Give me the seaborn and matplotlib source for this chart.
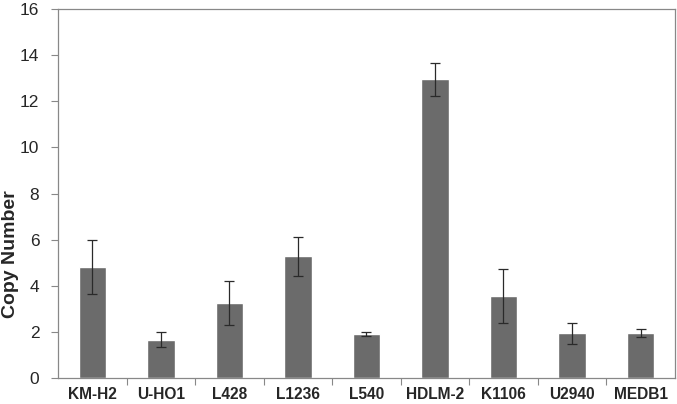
import matplotlib
matplotlib.use('Agg')
import matplotlib.pyplot as plt
import numpy as np
import pandas as pd
import seaborn as sns
from matplotlib.ticker import FixedLocator

cell_lines = ['KM-H2', 'U-HO1', 'L428', 'L1236', 'L540', 'HDLM-2', 'K1106', 'U2940', 'MEDB1']
copy_number = [4.82, 1.67, 3.27, 5.28, 1.92, 12.95, 3.55, 1.95, 1.95]
copy_error = [1.18, 0.33, 0.96, 0.84, 0.10, 0.72, 1.18, 0.46, 0.16]

df = pd.DataFrame({'cell_line': cell_lines, 'copy_number': copy_number, 'err': copy_error})

sns.set_style('white')
plt.rcParams['font.family'] = ['Liberation Sans', 'DejaVu Sans']

fig = plt.figure(figsize=(6.77, 4.04), dpi=100)
ax = fig.add_axes([0.0857, 0.064, 0.911, 0.914])

sns.barplot(data=df, x='cell_line', y='copy_number', color='#6b6b6b',
            saturation=1, width=0.4, errorbar=None, ax=ax)

# Error bars centred on the drawn bars
centres = [p.get_x() + p.get_width() / 2 for p in ax.patches]
ax.errorbar(centres, df['copy_number'], yerr=df['err'], fmt='none',
            ecolor='#2a2a2a', elinewidth=0.9, capsize=3.5, capthick=0.9)

ax.set_ylim(0, 16)
ax.set_xlim(-0.5, len(cell_lines) - 0.5)
ax.set_yticks(np.arange(0, 17, 2))
ax.tick_params(axis='y', labelsize=12.5, length=5, width=0.8, color='#888888', left=True, pad=8.5)
ax.tick_params(axis='x', which='major', length=0, labelsize=11.2, pad=6.5)
ax.xaxis.set_minor_locator(FixedLocator(np.arange(0.5, len(cell_lines) - 0.5, 1)))
ax.tick_params(axis='x', which='minor', length=5, width=0.8, color='#888888', bottom=True)
for lbl in ax.get_xticklabels():
    lbl.set_fontweight('bold')

ax.set_xlabel('')
ax.set_ylabel('Copy Number', fontsize=14, fontweight='bold')
ax.yaxis.set_label_coords(-0.077, 0.336)
ax.yaxis.label.set_va('center')

for s in ax.spines.values():
    s.set_color('#888888')
    s.set_linewidth(0.9)

fig.savefig('out.png', dpi=100)
